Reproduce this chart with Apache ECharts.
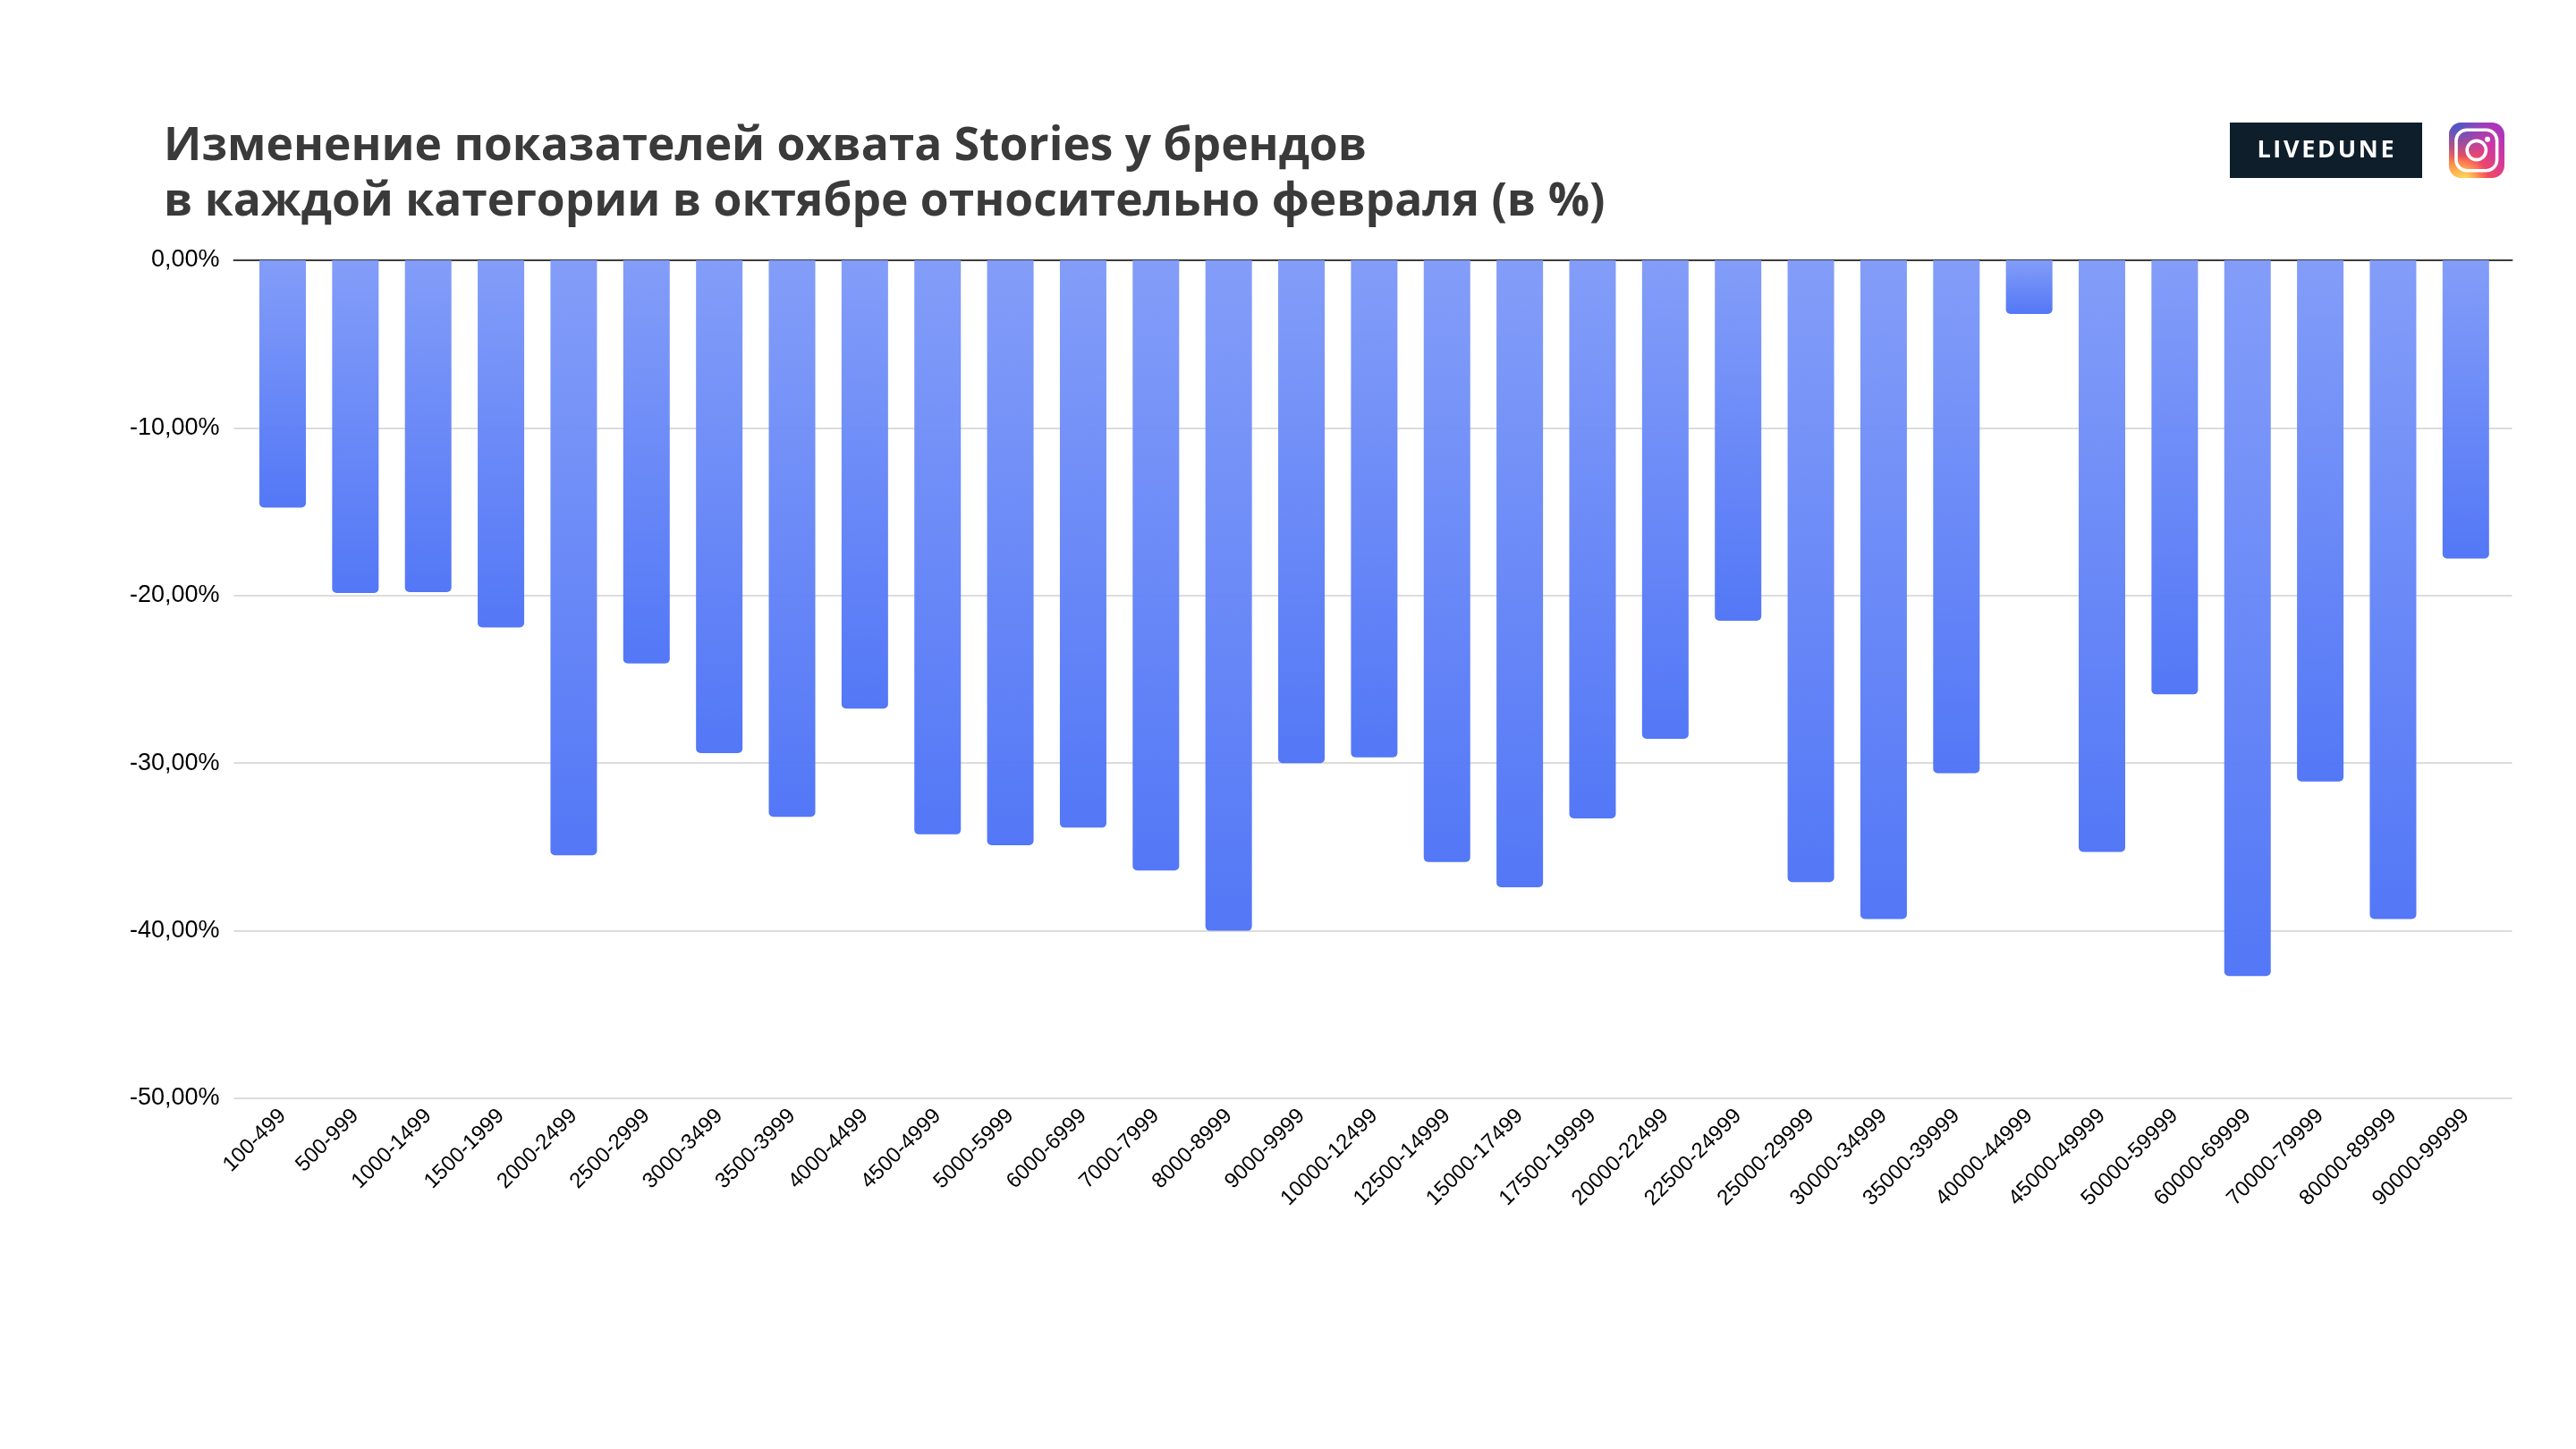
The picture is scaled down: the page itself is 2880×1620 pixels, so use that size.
<!DOCTYPE html>
<html><head><meta charset="utf-8">
<style>html,body{margin:0;padding:0;background:#fff}#c{width:2880px;height:1620px}</style>
<script src="https://cdn.jsdelivr.net/npm/echarts@6/dist/echarts.min.js"></script>
</head><body><div id="c"></div>
<script>
const categories = ['100-499','500-999','1000-1499','1500-1999','2000-2499','2500-2999','3000-3499','3500-3999','4000-4499','4500-4999','5000-5999','6000-6999','7000-7999','8000-8999','9000-9999','10000-12499','12500-14999','15000-17499','17500-19999','20000-22499','22500-24999','25000-29999','30000-34999','35000-39999','40000-44999','45000-49999','50000-59999','60000-69999','70000-79999','80000-89999','90000-99999'];
const values = [-14.75,-19.85,-19.8,-21.9,-35.5,-24.05,-29.4,-33.2,-26.75,-34.25,-34.9,-33.85,-36.4,-40.0,-30.0,-29.65,-35.9,-37.4,-33.3,-28.55,-21.5,-37.1,-39.3,-30.6,-3.2,-35.3,-25.9,-42.7,-31.1,-39.3,-17.8];
const titleText = 'Изменение показателей охвата Stories у брендов\nв каждой категории в октябре относительно февраля (в %)';
const brand = 'LIVEDUNE';

const chart = echarts.init(document.getElementById('c'), null, {renderer:'canvas'});
const TOP = 291, H = 937;
chart.setOption({
  animation:false,
  backgroundColor:'#fff',
  title:{text:titleText,left:178,top:128,textStyle:{fontFamily:'"Open Sans"',fontWeight:700,fontSize:51.5,lineHeight:62,color:'#3a3a3a'}},
  grid:[
    {left:261.5,width:2547,top:TOP,height:H},
    {left:275.3,width:2522.2,top:TOP,height:H}
  ],
  xAxis:[
    {gridIndex:0,type:'category',position:'top',data:[''],axisLine:{show:true,onZero:false,lineStyle:{color:'#3c3c3c',width:2}},axisTick:{show:false},axisLabel:{show:false}},
    {gridIndex:1,type:'category',position:'bottom',data:categories,axisLine:{show:false},axisTick:{show:false},
     axisLabel:{interval:0,rotate:45,margin:16,fontFamily:'"Liberation Sans"',fontSize:24,color:'#000'}}
  ],
  yAxis:[
    {gridIndex:0,type:'value',min:-50,max:0,interval:10,axisLine:{show:false},axisTick:{show:false},
     splitLine:{show:true,lineStyle:{color:'#dcdcdc',width:2}},
     axisLabel:{margin:16,fontFamily:'"Liberation Sans"',fontSize:27,color:'#000',formatter:v=>v.toFixed(2).replace('.',',')+'%'}},
    {gridIndex:1,type:'value',min:-50,max:0,interval:10,show:false}
  ],
  series:[{type:'bar',xAxisIndex:1,yAxisIndex:1,data:values,barWidth:52,
    itemStyle:{opacity:.97,borderRadius:[0,0,5,5],color:new echarts.graphic.LinearGradient(0,0,0,1,[{offset:0,color:'#7f9af8'},{offset:1,color:'#4e73f6'}])}}],
  graphic:[
    {type:'rect',shape:{x:2493,y:137,width:215,height:62},style:{fill:'#0f1e2b'}},
    {type:'text',x:2600,y:168,style:{text:brand.split('').join('\u200a'),align:'center',verticalAlign:'middle',fill:'#fff',font:'700 27px "Open Sans"'}},
    {type:'rect',shape:{x:2738,y:137,width:62,height:62,r:14},style:{fill:new echarts.graphic.LinearGradient(0,1,1,0,[{offset:0,color:'#fdb04a'},{offset:.3,color:'#fb4f52'},{offset:.65,color:'#d0379f'},{offset:1,color:'#9a34c8'}])}},
    {type:'rect',shape:{x:2738,y:137,width:62,height:62,r:14},style:{fill:new echarts.graphic.RadialGradient(0.1,0,0.7,[{offset:0,color:'rgba(60,90,210,1)'},{offset:1,color:'rgba(60,90,210,0)'}])}},
    {type:'rect',shape:{x:2738,y:137,width:62,height:62,r:14},style:{fill:new echarts.graphic.RadialGradient(0.28,1.02,0.42,[{offset:0,color:'rgba(255,221,85,1)'},{offset:1,color:'rgba(255,221,85,0)'}])}},
    {type:'rect',shape:{x:2746,y:145.2,width:45.6,height:45.6,r:12},style:{fill:'none',stroke:'#fff',lineWidth:3.6}},
    {type:'circle',shape:{cx:2768.8,cy:168,r:10.6},style:{fill:'none',stroke:'#fff',lineWidth:3.6}},
    {type:'circle',shape:{cx:2781,cy:155.8,r:3},style:{fill:'#fff'}}
  ]
});
</script></body></html>
